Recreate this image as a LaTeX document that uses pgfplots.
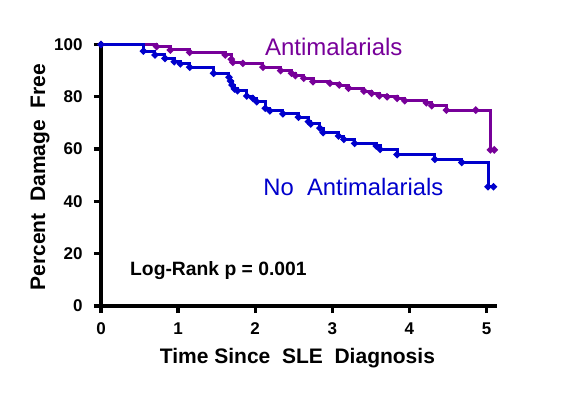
\documentclass[border=0pt]{standalone}
\usepackage{fontspec}
\setmainfont{Liberation Sans}
\usepackage{pgfplots}
\pgfplotsset{compat=1.18}
\definecolor{amPurple}{RGB}{119,0,153}
\definecolor{noBlue}{RGB}{0,0,204}
\begin{document}
\begin{tikzpicture}
\begin{axis}[
  scale only axis,
  width=396pt, height=263.6pt,
  xmin=0, xmax=5.136, ymin=0, ymax=100.8,
  axis x line=bottom, axis y line=left,
  axis line style={-, line width=3.4pt},
  tick align=outside, major tick length=7pt,
  tick style={line width=3.4pt, draw=black},
  xtick={0,1,2,3,4,5}, ytick={0,20,40,60,80,100},
  /pgf/number format/assume math mode=true,
  ticklabel style={font=\fontsize{17}{20}\selectfont\bfseries},
  xticklabel style={yshift=-6pt},
  yticklabel style={xshift=-8pt},
  xlabel={Time Since\ \ SLE\ \ Diagnosis},
  ylabel={Percent\ \ Damage\ \ Free},
  label style={font=\fontsize{21}{24}\selectfont\bfseries},
  xlabel style={at={(rel axis cs:0.496,-0.217)}, anchor=base},
  ylabel style={at={(rel axis cs:-0.1414,0.489)}, anchor=base},
  clip=false,
]
\coordinate (o) at (axis cs:0,0);
\pgfplotsinvokeforeach{0,1,2,3,4,5}{\draw[black, line width=3.4pt] (axis cs:#1,0) -- (axis cs:#1,-2.7);}
\pgfplotsinvokeforeach{0,20,40,60,80,100}{\draw[black, line width=3.4pt] (axis cs:0,#1) -- (axis cs:-0.091,#1);}
% Antimalarials
\addplot[const plot, color=amPurple, line width=3pt, mark=*, mark size=1.8pt, mark options={solid}] coordinates {
(0,100) (0.72,99.2) (0.90,97.9) (1.15,97.0) (1.61,96.0) (1.69,94.4) (1.71,93.2) (1.84,92.8)
(2.10,91.3) (2.33,90.0) (2.47,89.0) (2.52,88.1) (2.63,87.1) (2.75,85.8) (2.97,85.2)
(3.09,84.5) (3.21,83.3) (3.41,82.2) (3.51,81.3) (3.61,80.4) (3.71,80.0) (3.84,79.4)
(3.94,78.5) (4.22,77.7) (4.29,76.6) (4.48,74.9) (4.86,74.9) (5.05,59.7) (5.10,59.7)
};
% No Antimalarials
\addplot[const plot, color=noBlue, line width=3pt, mark=*, mark size=1.8pt, mark options={solid}] coordinates {
(0,100) (0.55,97.5) (0.70,96.0) (0.83,94.7) (0.95,93.4) (1.03,92.6) (1.15,91.3)
(1.46,89.0) (1.66,87.5) (1.68,86.0) (1.70,84.5) (1.73,83.0) (1.77,82.3) (1.89,80.3)
(1.97,79.4) (2.02,78.1) (2.13,75.6) (2.19,74.6) (2.36,73.5) (2.56,72.2) (2.69,70.5)
(2.72,69.6) (2.84,68.0) (2.88,66.3) (3.08,65.0) (3.15,63.7) (3.29,62.2) (3.57,61.2)
(3.62,59.9) (3.84,57.9) (4.33,56.1) (4.68,54.9) (5.02,45.6) (5.09,45.6)
};
\node[anchor=base west, inner sep=0, text=amPurple, font=\fontsize{24}{28}\selectfont] at (axis cs:2.126,95.9) {Antimalarials};
\node[anchor=base west, inner sep=0, text=noBlue, font=\fontsize{23.8}{28}\selectfont] at (axis cs:2.104,42.4) {No\ \ Antimalarials};
\node[anchor=base west, inner sep=0, font=\fontsize{19.3}{22}\selectfont\bfseries] at (axis cs:0.376,11.5) {Log-Rank p = 0.001};
\end{axis}
\pgfresetboundingbox
\path (o) ++(-101pt,-91pt) rectangle ++(564pt,397pt);
\end{tikzpicture}
\end{document}
